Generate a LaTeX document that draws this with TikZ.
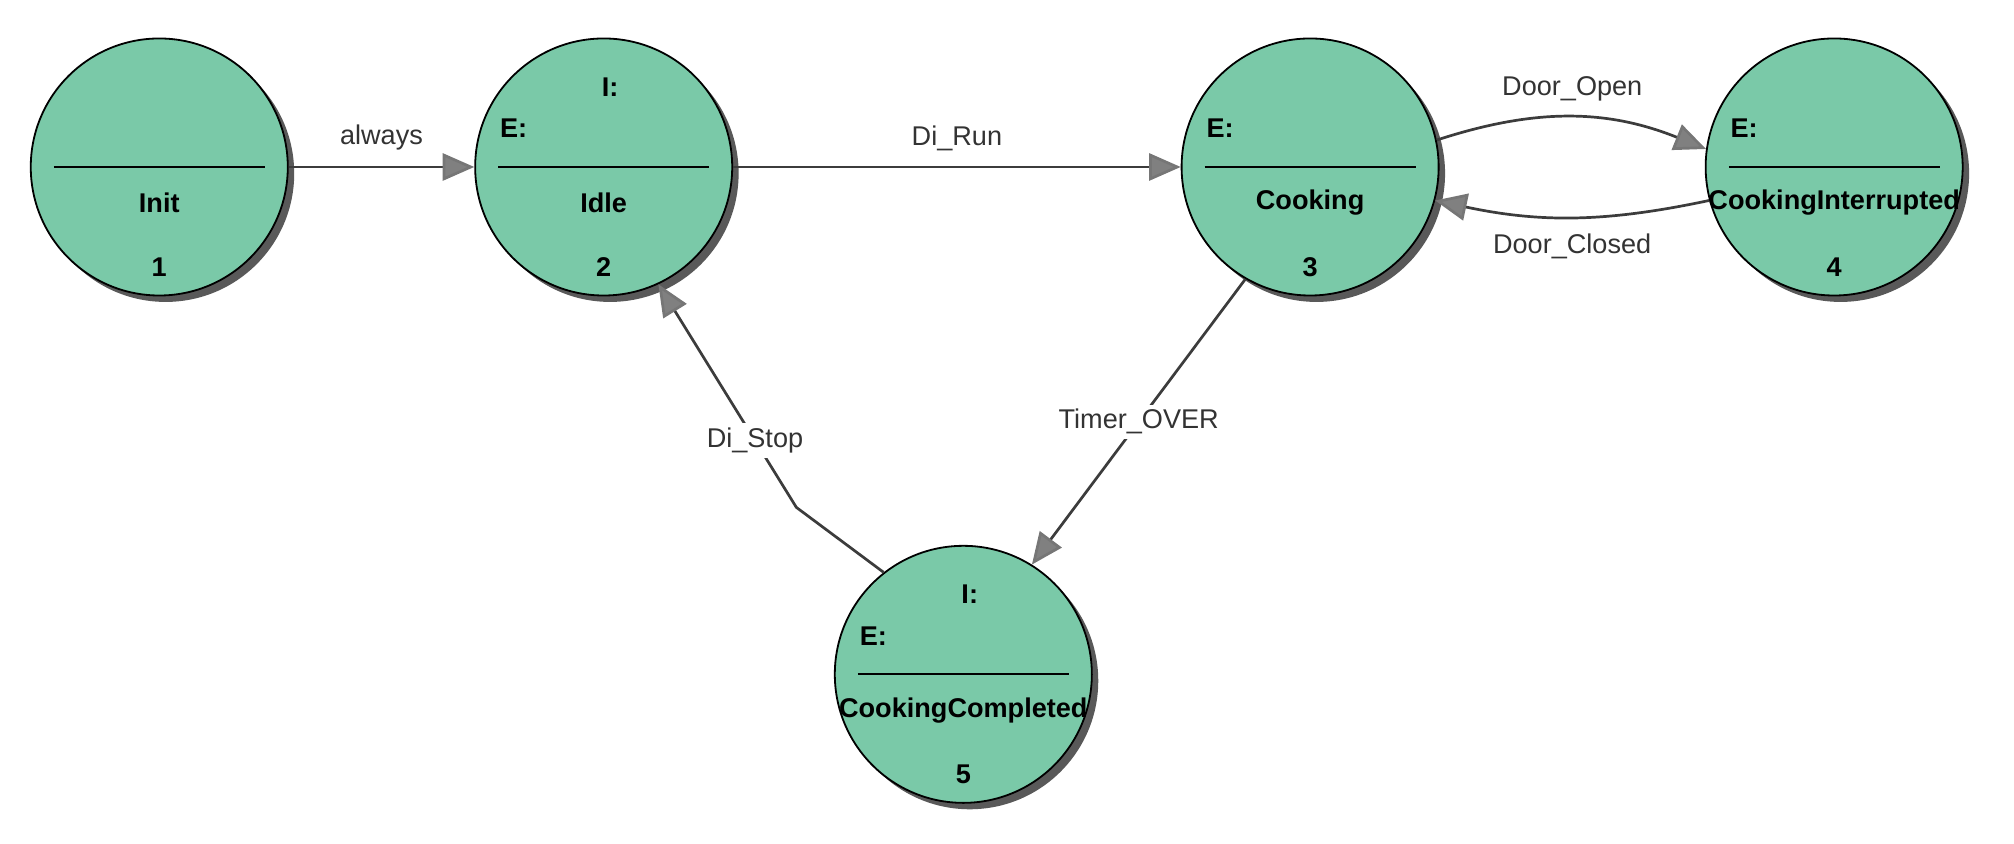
\documentclass[tikz,border=0pt]{standalone}
\usepackage{fontspec}
\setmainfont{Liberation Sans}
\usetikzlibrary{shadows,arrows.meta,positioning}
\definecolor{stategreen}{RGB}{122,201,168}
\definecolor{edgegray}{RGB}{60,60,60}

\begin{document}
\begin{tikzpicture}[x=0.01cm,y=-0.01cm,
    state/.style={circle,minimum size=2cm,inner sep=0pt,fill=stategreen,draw=black,line width=0.4pt,
      drop shadow={shadow xshift=0.05cm,shadow yshift=-0.05cm,fill=gray!70!black,opacity=1}},
    txt/.style={font=\bfseries\fontsize{6}{7}\selectfont},
    lbl/.style={font=\fontsize{6}{7}\selectfont,text=black!80},
    trans/.style={draw=edgegray,line width=0.6pt,-{Triangle[length=7pt,width=6pt,fill=gray,color=edgegray!70]}}]
  \useasboundingbox (0,0) rectangle (1568,657);

  \node[state] (s1) at (124,130) {};
  \node[state] (s2) at (470,130) {};
  \node[state] (s3) at (1020,130) {};
  \node[state] (s4) at (1428,130) {};
  \node[state] (s5) at (750,525) {};

  % texts inside the states
  \foreach \s/\num/\name in {s1/1/Init,s2/2/Idle,s3/3/Cooking,s4/4/CookingInterrupted,s5/5/CookingCompleted}{
    \node[txt] at ([yshift=-0.78cm]\s.center) {\num};
    \node[txt] at ([yshift=-0.28cm]\s.center) {\name};
    \draw ([xshift=-0.82cm]\s.center) -- ([xshift=0.82cm]\s.center);
  }
  \foreach \s in {s2,s3,s4,s5}
    \node[txt] at ([xshift=-0.7cm,yshift=0.3cm]\s.center) {E:};
  \foreach \s in {s2,s5}
    \node[txt] at ([xshift=0.05cm,yshift=0.62cm]\s.center) {I:};

  % transitions
  \path[trans] (s1) -- node[lbl,above] {always} (s2);
  \path[trans] (s2) -- node[lbl,above] {Di\_Run} (s3);
  \path[trans] (s3.12) to[bend left=20] node[lbl,above] {Door\_Open} (s4.172);
  \path[trans] (s4.195) to[bend left=12] node[lbl,below] {Door\_Closed} (s3.345);
  \path[trans] (s3.240) -- node[lbl,fill=white,inner sep=1pt] {Timer\_OVER} (s5.58);
  \path[trans] (s5.128) -- (620,395) -- node[lbl,fill=white,inner sep=1pt,pos=0.3] {Di\_Stop} (s2.295);
\end{tikzpicture}
\end{document}
